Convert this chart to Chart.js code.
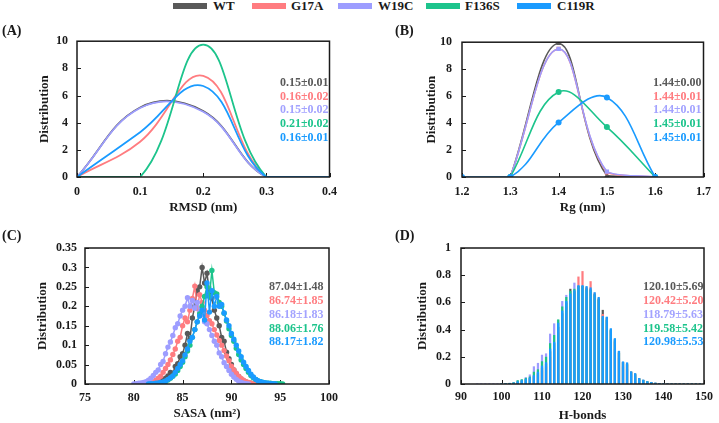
<!DOCTYPE html>
<html><head><meta charset="utf-8">
<script src="https://cdn.jsdelivr.net/npm/chart.js@4.4.1/dist/chart.umd.min.js"></script>
<style>
html,body{margin:0;padding:0;background:#fff;}
body{width:719px;height:423px;position:relative;overflow:hidden;font-family:"Liberation Serif","DejaVu Serif",serif;font-weight:bold;}
canvas{position:absolute;}
.t{position:absolute;white-space:nowrap;}
.b{position:absolute;height:6px;}
</style></head><body>
<canvas id="cA" width="345" height="197" style="left:0;top:25px"></canvas>
<canvas id="cB" width="359" height="197" style="left:360px;top:25px"></canvas>
<canvas id="cC" width="345" height="195" style="left:0;top:228px"></canvas>
<canvas id="cD" width="359" height="195" style="left:360px;top:228px"></canvas>
<script>
// ---------- DATA ----------
const seriesNames = ['WT','G17A','W19C','F136S','C119R'];
const seriesColors = ['#595959','#ff7c80','#9d9dff','#1dc48c','#1a9bff'];
const textColors = ['#595959','#ff7c80','#a3a3ff','#1dc48c','#1a9bff'];

// (A) RMSD
const rmsdX = [0, 0.1, 0.2, 0.3, 0.4];
const rmsdWT    = [0, 5.12, 4.85, 0, 0];
const rmsdG17A  = [0, 2.6, 7.45, 0, 0];
const rmsdW19C  = [0, 5.08, 4.8, 0, 0];
const rmsdF136S = [0, 0, 9.75, 0, 0];
const rmsdC119R = [0, 3.3, 6.7, 0, 0];
const rmsdStats = ['0.15±0.01','0.16±0.02','0.15±0.02','0.21±0.02','0.16±0.01'];
const rmsdXTicks = [0, 0.1, 0.2, 0.3, 0.4];
const rmsdXLabels = ['0', '0.1', '0.2', '0.3', '0.4'];
const rmsdYTicks = [0, 2, 4, 6, 8, 10];
const rmsdYLabels = ['0', '2', '4', '6', '8', '10'];

// (B) Rg
const rgX = [1.2, 1.3, 1.4, 1.5, 1.6];
const rgWT    = [null, 0, 9.9, 0.1, 0];
const rgG17A  = [null, 0, 9.5, 0.35, 0];
const rgW19C  = [null, 0, 9.5, 0.4, 0];
const rgF136S = [null, 0, 6.3, 3.7, 0];
const rgC119R = [0, 0, 4.05, 5.9, 0];
const rgStats = ['1.44±0.00','1.44±0.01','1.44±0.01','1.45±0.01','1.45±0.01'];
const rgXTicks = [1.2, 1.3, 1.4, 1.5, 1.6, 1.7];
const rgXLabels = ['1.2', '1.3', '1.4', '1.5', '1.6', '1.7'];
const rgYTicks = [0, 2, 4, 6, 8, 10];
const rgYLabels = ['0', '2', '4', '6', '8', '10'];

// (C) SASA
const sasaX = [80,80.25,80.5,80.75,81,81.25,81.5,81.75,82,82.25,82.5,82.75,83,83.25,83.5,83.75,84,84.25,84.5,84.75,85,85.25,85.5,85.75,86,86.25,86.5,86.75,87,87.25,87.5,87.75,88,88.25,88.5,88.75,89,89.25,89.5,89.75,90,90.25,90.5,90.75,91,91.25,91.5,91.75,92,92.25,92.5,92.75,93,93.25,93.5,93.75,94,94.25,94.5,94.75,95,95.25];
const sasaWT = [null,null,null,null,null,null,null,null,
 0,0.002,0.003,0.006,0.01,0.015,0.021,0.03,0.028,0.045,0.052,0.07,0.078,0.1,0.13,0.115,0.17,0.2,0.24,0.25,0.3,0.26,0.285,0.235,0.22,0.19,0.17,0.15,0.12,0.11,0.082,0.065,0.05,0.036,0.026,0.019,0.012,0.008,0.005,0.003,0.002,0.001,0,
 null,null,null,null,null,null,null,null,null,null,null];
const sasaG17A = [null,null,null,null,null,null,
 0,0.002,0.005,0.01,0.015,0.02,0.03,0.04,0.05,0.062,0.076,0.09,0.11,0.12,0.15,0.17,0.16,0.19,0.22,0.252,0.195,0.23,0.21,0.19,0.176,0.163,0.155,0.14,0.126,0.112,0.1,0.086,0.072,0.06,0.046,0.036,0.028,0.02,0.014,0.01,0.006,0.004,0.002,0.001,0,
 null,null,null,null,null,null,null,null,null,null,null];
const sasaW19C = [0,0.001,0.002,0.003,0.004,0.006,0.01,0.015,0.022,0.03,0.036,0.05,0.058,0.078,0.095,0.108,0.125,0.145,0.155,0.175,0.19,0.2,0.222,0.2,0.215,0.195,0.21,0.185,0.18,0.16,0.155,0.14,0.125,0.11,0.1,0.08,0.07,0.055,0.045,0.035,0.025,0.018,0.012,0.007,0.004,0.002,0.001,0,
 null,null,null,null,null,null,null,null,null,null,null,null,null,null];
const sasaF136S = [null,null,null,null,null,null,null,null,null,null,
 0,0.002,0.004,0.006,0.01,0.015,0.02,0.026,0.035,0.045,0.056,0.07,0.085,0.1,0.12,0.14,0.16,0.18,0.2,0.225,0.25,0.225,0.292,0.235,0.232,0.21,0.2,0.182,0.162,0.142,0.125,0.11,0.092,0.076,0.062,0.05,0.04,0.03,0.022,0.016,0.012,0.008,0.006,0.004,0.003,0.002,0.002,0.001,0.001,0.001,0.001,0];
const sasaC119R = [null,null,null,null,null,null,
 0,0.001,0.001,0.002,0.003,0.004,0.005,0.008,0.012,0.016,0.021,0.03,0.04,0.05,0.06,0.075,0.09,0.11,0.12,0.14,0.16,0.175,0.19,0.165,0.26,0.185,0.24,0.2,0.225,0.2,0.205,0.183,0.165,0.15,0.13,0.115,0.1,0.085,0.07,0.056,0.045,0.035,0.025,0.018,0.012,0.008,0.006,0.004,0.003,0.002,0.001,0.001,0,
 null,null,null];
const sasaStats = ['87.04±1.48','86.74±1.85','86.18±1.83','88.06±1.76','88.17±1.82'];
const sasaXTicks = [75, 80, 85, 90, 95, 100];
const sasaXLabels = ['75', '80', '85', '90', '95', '100'];
const sasaYTicks = [0, 0.05, 0.1, 0.15, 0.2, 0.25, 0.3, 0.35];
const sasaYLabels = ['0', '0.05', '0.1', '0.15', '0.2', '0.25', '0.3', '0.35'];

// (D) H-bonds
const hbX = [94,95,96,97,98,99,100,101,102,103,104,105,106,107,108,109,110,111,112,113,114,115,116,117,118,119,120,121,122,123,124,125,126,127,128,129,130,131,132,133,134,135,136,137,138,139,140,141,142,143,144,145,146,147,148,149,150];
const hbWT = [0,0,0,0,0,0,
 0.003,0.005,0.007,0.01,0.018,0.025,0.035,0.045,0.06,0.08,
 0.12,0.15,0.24,0.3,0.42,0.52,0.6,0.70,0.68,0.72,
 0.72,0.71,0.7,0.66,0.63,0.545,0.49,0.4,0.33,0.24,
 0.16,0.15,0.09,0.075,0.042,0.03,0.019,0.014,0.009,0.006,
 0.004,0.003,0.003,0.003,0.003,0.003,0.003,0.003,0.003,0.003,0.003];
const hbG17A = [0,0,0,0,0,0,
 0.002,0.004,0.006,0.008,0.015,0.022,0.03,0.04,0.05,0.07,
 0.1,0.13,0.2,0.26,0.38,0.48,0.57,0.64,0.68,0.79,
 0.83,0.71,0.756,0.67,0.62,0.515,0.48,0.39,0.31,0.23,
 0.16,0.14,0.09,0.07,0.04,0.03,0.018,0.012,0.008,0.005,
 0.003,0.002,0.002,0.002,0.002,0.002,0.002,0.002,0.002,0.002,0.002];
const hbW19C = [0.004,0.004,0.004,0.004,0.004,0.004,
 0.005,0.006,0.008,0.012,0.025,0.032,0.05,0.07,0.13,0.155,
 0.215,0.225,0.37,0.446,0.47,0.61,0.655,0.68,0.745,0.7,
 0.7,0.68,0.65,0.6,0.55,0.45,0.4,0.33,0.26,0.19,
 0.13,0.11,0.07,0.05,0.03,0.02,0.012,0.008,0.005,0.003,
 0.002,0.001,0.001,0.001,0.001,0.001,0.001,0.001,0.001,0.001,0.001];
const hbF136S = [0,0,0,0,0,0,
 0.003,0.006,0.008,0.012,0.028,0.035,0.045,0.055,0.09,0.108,
 0.167,0.2,0.3,0.36,0.475,0.57,0.64,0.685,0.7,0.72,
 0.72,0.7,0.69,0.66,0.62,0.49,0.47,0.4,0.32,0.23,
 0.16,0.15,0.09,0.07,0.04,0.03,0.02,0.012,0.008,0.005,
 0.003,0.002,0.002,0.002,0.002,0.002,0.002,0.002,0.002,0.002,0.002];
const hbC119R = [0,0,0,0,0,0,
 0.003,0.005,0.007,0.01,0.02,0.028,0.038,0.048,0.065,0.09,
 0.135,0.16,0.26,0.31,0.45,0.54,0.61,0.665,0.69,0.727,
 0.727,0.72,0.71,0.675,0.64,0.5,0.495,0.41,0.337,0.244,
 0.166,0.159,0.093,0.08,0.044,0.032,0.02,0.015,0.01,0.007,
 0.005,0.004,0.004,0.004,0.004,0.004,0.004,0.004,0.004,0.004,0.004];
const hbStats = ['120.10±5.69','120.42±5.20','118.79±5.63','119.58±5.42','120.98±5.53'];
const hbXTicks = [90, 100, 110, 120, 130, 140, 150];
const hbXLabels = ['90', '100', '110', '120', '130', '140', '150'];
const hbYTicks = [0, 0.2, 0.4, 0.6, 0.8, 1];
const hbYLabels = ['0', '0.2', '0.4', '0.6', '0.8', '1'];

// ---------- RENDER ----------
const FONT = '"Liberation Serif", "DejaVu Serif", serif';
const INK = '#1a1a1a';

function addText(str, left, baseline, size, color) {
  const d = document.createElement('div');
  d.className = 't';
  d.textContent = str;
  d.style.left = left + 'px';
  d.style.top = (baseline - size * 0.8375) + 'px';
  d.style.fontSize = size + 'px';
  d.style.lineHeight = size + 'px';
  d.style.color = color;
  document.body.appendChild(d);
}
function addBox(left, top, w, color) {
  const d = document.createElement('div');
  d.className = 'b';
  d.style.left = left + 'px'; d.style.top = top + 'px'; d.style.width = w + 'px';
  d.style.background = color;
  document.body.appendChild(d);
}

// legend
const legBoxX = [173, 252, 338, 426, 517];
const legTextX = [213, 291, 378, 465, 557];
seriesNames.forEach((n, i) => {
  addBox(legBoxX[i], 3, 34, seriesColors[i]);
  addText(n, legTextX[i], 10, 13, INK);
});
addText('(A)', 2, 36, 14, INK);
addText('(B)', 395, 36, 14, INK);
addText('(C)', 2, 241, 14, INK);
addText('(D)', 395, 241, 14, INK);

function stats(arr, left, base0) {
  arr.forEach((s, i) => addText(s, left, base0 + i * 13.7, 12, textColors[i]));
}
stats(rmsdStats, 280, 86);
stats(rgStats, 653, 86);
stats(sasaStats, 269, 290.5);
stats(hbStats, 643, 290.5);

const frame = {
  id: 'frame',
  beforeDatasetsDraw(chart) {
    const {ctx, chartArea: a, scales: {x, y}} = chart;
    ctx.save();
    ctx.strokeStyle = INK; ctx.lineWidth = 1;
    ctx.beginPath();
    x.ticks.forEach(t => { const p = Math.round(x.getPixelForValue(t.value)) + 0.5; ctx.moveTo(p, a.bottom); ctx.lineTo(p, a.bottom - 4); });
    y.ticks.forEach(t => { const p = Math.round(y.getPixelForValue(t.value)) + 0.5; ctx.moveTo(a.left, p); ctx.lineTo(a.left + 4, p); });
    ctx.stroke();
    ctx.restore();
  },
  afterDraw(chart) {
    const {ctx, chartArea: a} = chart;
    ctx.save();
    ctx.strokeStyle = INK; ctx.lineWidth = 1.5;
    ctx.strokeRect(a.left, a.top, a.right - a.left, a.bottom - a.top);
    ctx.restore();
  }
};

function tickFont() { return {family: FONT, size: 12, weight: 'bold'}; }
function titleFont() { return {family: FONT, size: 13, weight: 'bold'}; }

function makeChart(id, type, datasets, o) {
  return new Chart(document.getElementById(id), {
    type,
    data: {datasets},
    options: {
      responsive: false, animation: false, devicePixelRatio: 1,
      layout: {padding: {left: 0, top: o.pt, right: o.pr, bottom: 0}},
      plugins: {legend: {display: false}, tooltip: {enabled: false}},
      scales: {
        x: {
          type: 'linear', min: o.xTicks[0], max: o.xTicks[o.xTicks.length - 1], offset: false,
          afterBuildTicks: s => { s.ticks = o.xTicks.map(v => ({value: v})); },
          ticks: {padding: o.xtp, color: INK, font: tickFont(), autoSkip: false, maxRotation: 0,
                  callback: (v, i) => o.xLabels[i]},
          grid: {display: false, drawTicks: false, offset: false}, border: {display: false},
          title: {display: true, text: o.xTitle, color: INK, font: titleFont(), padding: {top: 0, bottom: o.xttp}},
          afterFit: s => { s.height = o.xh; }
        },
        y: {
          type: 'linear', min: o.yTicks[0], max: o.yTicks[o.yTicks.length - 1],
          afterBuildTicks: s => { s.ticks = o.yTicks.map(v => ({value: v})); },
          ticks: {padding: o.ytp, color: INK, font: tickFont(), autoSkip: false,
                  callback: (v, i) => o.yLabels[i]},
          grid: {display: false, drawTicks: false}, border: {display: false},
          title: {display: true, text: 'Distribution', color: INK, font: titleFont(), padding: {top: o.yttp, bottom: 0}},
          afterFit: s => { s.width = o.yw; }
        }
      }
    },
    plugins: [frame]
  });
}

function pts(xs, ys) { return xs.map((x, i) => ({x, y: ys[i]})); }

// (A)
const rmsdSeries = [rmsdWT, rmsdG17A, rmsdW19C, rmsdF136S, rmsdC119R];
makeChart('cA', 'line', rmsdSeries.map((s, i) => ({
  data: pts(rmsdX, s), borderColor: seriesColors[i], borderWidth: 1.8, tension: 0.4,
  pointRadius: 0, fill: false, order: 5 - i
})), {pt: 15, pr: 10, yw: 77, xh: 45, xtp: 8, xttp: 7, ytp: 9, yttp: 37,
     xTicks: rmsdXTicks, xLabels: rmsdXLabels, yTicks: rmsdYTicks, yLabels: rmsdYLabels, xTitle: 'RMSD (nm)'});

// (B)
const rgSeries = [rgWT, rgG17A, rgW19C, rgF136S, rgC119R];
const rgMarkers = ['triangle', 'rect', 'rect', 'circle', 'circle'];
makeChart('cB', 'line', rgSeries.map((s, i) => ({
  data: pts(rgX, s), borderColor: seriesColors[i], backgroundColor: seriesColors[i], borderWidth: 1.6, tension: 0.4,
  pointRadius: 3, pointStyle: rgMarkers[i], pointBorderWidth: 0, pointBackgroundColor: seriesColors[i],
  fill: false, order: 5 - i, spanGaps: false
})), {pt: 15, pr: 11, yw: 102, xh: 45, xtp: 8, xttp: 7, ytp: 10, yttp: 64,
     xTicks: rgXTicks, xLabels: rgXLabels, yTicks: rgYTicks, yLabels: rgYLabels, xTitle: 'Rg (nm)'});

// (C)
const sasaSeries = [sasaWT, sasaG17A, sasaW19C, sasaF136S, sasaC119R];
makeChart('cC', 'line', sasaSeries.map((s, i) => ({
  data: pts(sasaX, s), borderColor: seriesColors[i], backgroundColor: seriesColors[i], borderWidth: 1.5, tension: 0,
  pointRadius: 2.7, pointBorderWidth: 0, pointBackgroundColor: seriesColors[i],
  fill: false, order: 5 - i
})), {pt: 20, pr: 11, yw: 85, xh: 39, xtp: 7, xttp: 2, ytp: 8, yttp: 35,
     xTicks: sasaXTicks, xLabels: sasaXLabels, yTicks: sasaYTicks, yLabels: sasaYLabels, xTitle: 'SASA (nm²)'});

// (D)
const hbSeries = [hbWT, hbG17A, hbW19C, hbF136S, hbC119R];
makeChart('cD', 'bar', hbSeries.map((s, i) => ({
  data: pts(hbX, s), backgroundColor: seriesColors[i], borderWidth: 0,
  grouped: false, barPercentage: 0.55, categoryPercentage: 1, order: 5 - i
})), {pt: 20, pr: 10, yw: 101, xh: 39, xtp: 6, xttp: 0, ytp: 10, yttp: 55,
     xTicks: hbXTicks, xLabels: hbXLabels, yTicks: hbYTicks, yLabels: hbYLabels, xTitle: 'H-bonds'});
</script>
</body></html>
